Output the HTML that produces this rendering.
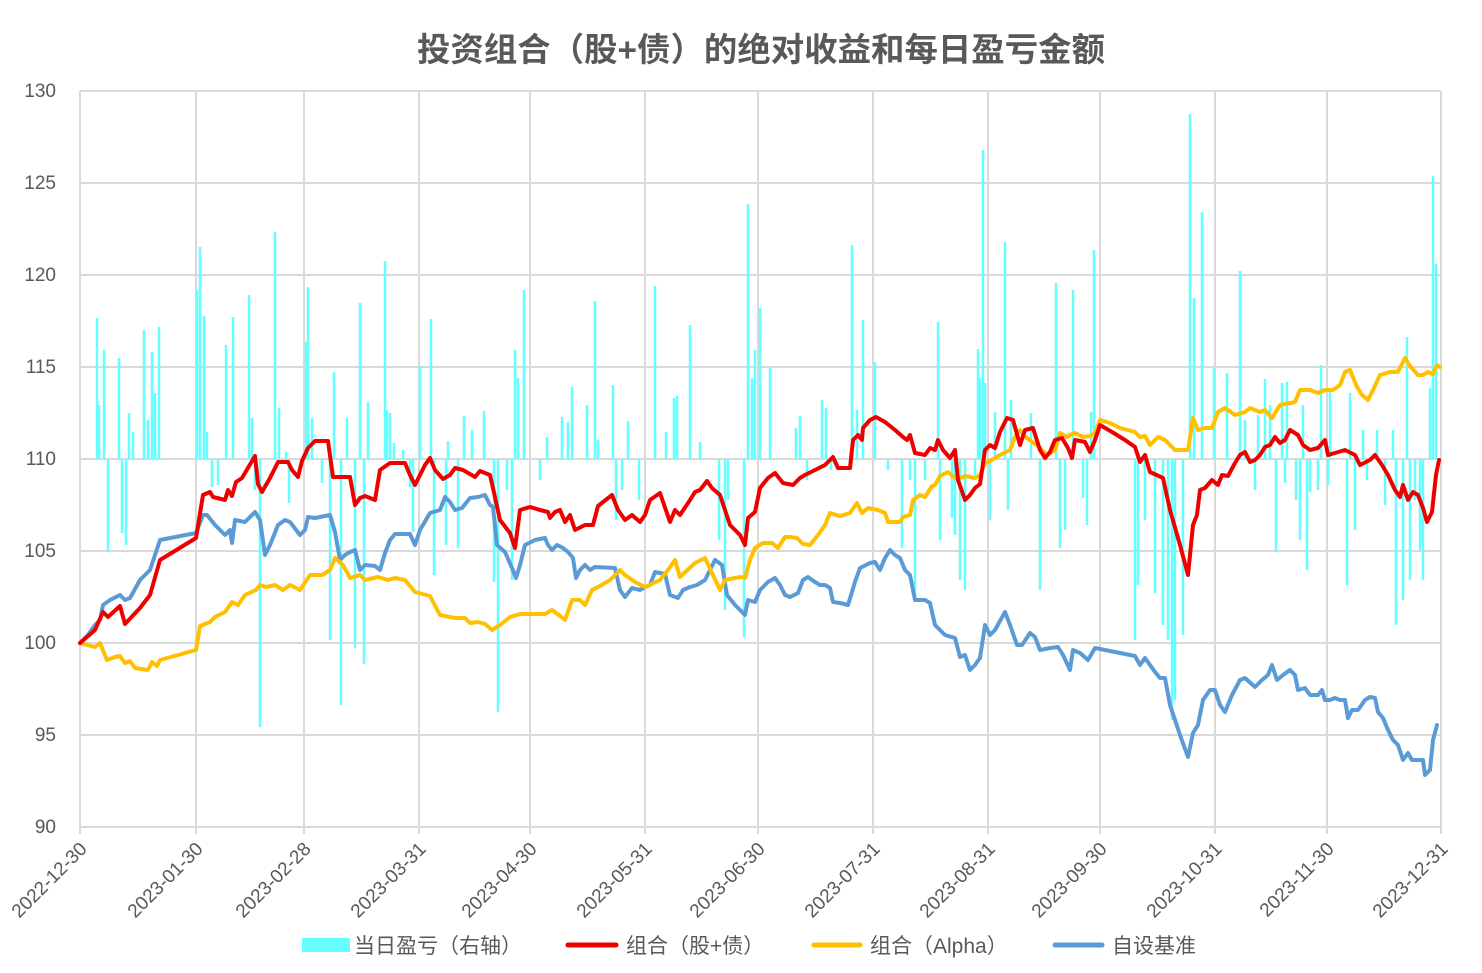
<!DOCTYPE html>
<html><head><meta charset="utf-8"><style>
body{margin:0;background:#fff;}
svg text{font-family:"Liberation Sans","Noto Sans CJK SC",sans-serif;fill:#595959;}
</style></head><body>
<svg width="1482" height="968" viewBox="0 0 1482 968" xmlns="http://www.w3.org/2000/svg">
<rect width="1482" height="968" fill="#fff"/>
<text x="761" y="61" text-anchor="middle" font-size="33" font-weight="bold" textLength="688" lengthAdjust="spacingAndGlyphs">投资组合（股+债）的绝对收益和每日盈亏金额</text>
<g stroke="#d9d9d9" stroke-width="2">
<line x1="80" y1="91" x2="1441" y2="91"/><line x1="80" y1="183" x2="1441" y2="183"/><line x1="80" y1="275" x2="1441" y2="275"/><line x1="80" y1="367" x2="1441" y2="367"/><line x1="80" y1="459" x2="1441" y2="459"/><line x1="80" y1="551" x2="1441" y2="551"/><line x1="80" y1="643" x2="1441" y2="643"/><line x1="80" y1="735" x2="1441" y2="735"/><line x1="80" y1="827" x2="1441" y2="827"/>
<path d="M80 91V834M196 91V834M304 91V834M419 91V834M530 91V834M645 91V834M758 91V834M873 91V834M988 91V834M1100 91V834M1215 91V834M1327 91V834M1441 91V834"/>
</g>
<g font-size="19" text-anchor="end">
<text x="56" y="97">130</text><text x="56" y="189">125</text><text x="56" y="281">120</text><text x="56" y="373">115</text><text x="56" y="465">110</text><text x="56" y="557">105</text><text x="56" y="649">100</text><text x="56" y="741">95</text><text x="56" y="833">90</text>
</g>
<g font-size="19" text-anchor="end">
<text transform="translate(88,850) rotate(-45)">2022-12-30</text>
<text transform="translate(204,850) rotate(-45)">2023-01-30</text>
<text transform="translate(312,850) rotate(-45)">2023-02-28</text>
<text transform="translate(427,850) rotate(-45)">2023-03-31</text>
<text transform="translate(538,850) rotate(-45)">2023-04-30</text>
<text transform="translate(653,850) rotate(-45)">2023-05-31</text>
<text transform="translate(766,850) rotate(-45)">2023-06-30</text>
<text transform="translate(881,850) rotate(-45)">2023-07-31</text>
<text transform="translate(996,850) rotate(-45)">2023-08-31</text>
<text transform="translate(1108,850) rotate(-45)">2023-09-30</text>
<text transform="translate(1223,850) rotate(-45)">2023-10-31</text>
<text transform="translate(1335,850) rotate(-45)">2023-11-30</text>
<text transform="translate(1449,850) rotate(-45)">2023-12-31</text>
</g>
<path stroke="#66ffff" stroke-width="2.5" fill="none" d="M97 459V318M99 459V405M104 459V350M119 459V358M129 459V413M133 459V432M144 459V330M148 459V420M152 459V352M155 459V393M159 459V327M197 459V290M200 459V247M204 459V316M207 459V432M226 459V345M233 459V317M249 459V295M252 459V418M275 459V232M279 459V408M286 459V452M306 459V342M308 459V287M312 459V418M334 459V372M347 459V418M360 459V303M368 459V402M385 459V261M387 459V410M390 459V413M394 459V443M403 459V450M420 459V366M431 459V319M448 459V441M464 459V416M472 459V430M484 459V411M515 459V350M518 459V378M524 459V290M547 459V437M562 459V417M568 459V422M572 459V387M587 459V405M595 459V301M598 459V440M613 459V385M628 459V421M655 459V286M666 459V432M674 459V398M677 459V396M690 459V325M700 459V442M748 459V204M752 459V378M755 459V350M760 459V308M770 459V368M796 459V428M800 459V416M822 459V400M826 459V408M852 459V245M857 459V410M863 459V320M875 459V362M938 459V322M978 459V349M980 459V378M983 459V150M985 459V383M995 459V412M1005 459V242M1011 459V400M1031 459V413M1056 459V283M1073 459V290M1091 459V412M1094 459V250M1190 459V114M1194 459V298M1202 459V212M1214 459V368M1227 459V373M1240 459V271M1245 459V420M1258 459V415M1265 459V379M1270 459V405M1282 459V383M1287 459V382M1303 459V405M1321 459V365M1330 459V392M1350 459V393M1363 459V430M1377 459V430M1393 459V430M1407 459V337M1430 459V388M1433 459V176M1436 459V264
M108 459V552M122 459V533M126 459V545M212 459V487M218 459V485M255 459V490M260 459V727M289 459V503M322 459V483M330 459V640M341 459V705M355 459V648M364 459V664M410 459V487M413 459V532M434 459V575M446 459V545M458 459V548M494 459V582M498 459V712M507 459V490M512 459V580M540 459V480M616 459V520M622 459V490M639 459V500M719 459V540M725 459V610M728 459V500M744 459V637M807 459V480M831 459V470M888 459V470M902 459V548M910 459V480M915 459V600M925 459V480M940 459V540M952 459V518M955 459V535M960 459V580M965 459V590M975 459V475M990 459V520M1008 459V510M1040 459V590M1060 459V548M1065 459V530M1083 459V498M1087 459V525M1135 459V640M1138 459V585M1145 459V520M1155 459V593M1163 459V625M1168 459V640M1172 459V720M1175 459V700M1183 459V635M1255 459V490M1276 459V552M1285 459V483M1296 459V500M1300 459V540M1307 459V570M1310 459V492M1318 459V490M1328 459V485M1347 459V585M1355 459V530M1367 459V480M1385 459V505M1396 459V625M1403 459V600M1410 459V580M1415 459V500M1420 459V550M1423 459V580"/>
<g fill="none" stroke-width="4" stroke-linejoin="round" stroke-linecap="round">
<polyline stroke="#5b9bd5" points="80,643 88,635 95,625 100,620 103,605 110,600 120,595 125,600 130,598 140,580 150,570 160,540 196,533 203,515 207,515 215,525 225,535 230,530 232,543 235,520 245,522 255,512 260,520 265,555 270,545 278,525 285,520 290,522 300,535 305,530 308,517 315,518 325,516 330,515 335,532 340,560 345,555 350,552 355,550 360,570 365,565 375,566 380,570 385,553 390,540 395,534 410,534 415,545 420,530 430,513 440,510 445,497 450,502 455,510 462,508 470,498 478,497 485,495 490,505 493,507 497,545 505,552 512,568 516,578 520,565 525,545 535,540 545,538 548,545 552,550 557,545 563,548 568,552 573,558 576,578 580,570 585,565 590,570 595,567 615,568 620,590 625,597 632,588 640,590 645,587 650,585 655,572 665,574 670,595 678,598 683,590 690,587 697,585 705,580 710,570 715,560 722,565 727,595 735,605 745,615 748,600 755,602 760,590 768,582 775,578 780,585 785,595 790,597 798,593 803,580 808,577 815,582 820,585 825,585 830,588 833,602 840,603 848,605 855,582 860,568 870,563 875,562 880,570 885,558 890,550 895,555 900,558 905,570 910,575 915,600 925,600 930,603 935,625 945,635 955,638 960,657 965,655 970,670 975,665 980,658 985,625 990,635 995,630 1005,612 1010,625 1017,645 1022,645 1030,633 1035,637 1040,650 1050,648 1058,647 1063,655 1070,670 1073,650 1080,653 1088,660 1095,648 1135,656 1140,665 1145,658 1150,665 1155,672 1160,678 1165,678 1170,705 1175,720 1180,735 1188,757 1193,733 1198,725 1203,700 1210,690 1215,690 1220,705 1225,712 1232,695 1240,680 1245,678 1255,687 1262,680 1268,675 1272,665 1277,680 1283,675 1290,670 1295,675 1298,690 1305,688 1310,695 1318,695 1322,690 1325,700 1330,700 1335,698 1340,700 1345,700 1348,718 1352,710 1358,710 1365,700 1370,697 1375,698 1378,712 1383,718 1388,730 1393,740 1398,745 1403,760 1408,753 1412,760 1420,760 1423,760 1425,775 1430,770 1433,740 1437,725"/>
<polyline stroke="#ffc000" points="80,643 95,647 100,643 107,660 115,657 120,656 125,663 130,661 135,668 148,670 152,662 157,666 160,660 196,650 200,626 210,622 215,617 225,612 232,602 238,605 245,595 256,590 260,585 266,587 275,585 283,590 290,585 300,590 310,575 322,575 330,570 335,558 343,565 350,578 360,575 365,580 378,577 388,580 395,578 405,580 415,592 430,596 440,615 455,618 465,618 470,623 478,622 485,624 492,630 500,625 510,617 520,614 545,614 552,610 560,616 565,620 572,600 580,600 585,605 592,590 600,586 610,580 620,570 625,575 635,582 645,587 660,580 668,570 675,560 680,577 695,563 705,558 712,573 720,590 725,580 740,577 745,578 750,560 755,548 763,543 772,543 778,548 785,537 790,537 797,538 803,544 810,545 818,535 825,525 830,513 840,516 850,513 857,503 862,513 868,508 878,510 885,513 888,522 900,522 903,517 910,515 913,500 920,495 925,497 932,486 935,485 940,476 948,472 955,478 960,478 965,476 975,478 980,475 985,463 990,461 1000,455 1010,450 1015,437 1020,430 1025,437 1030,440 1040,448 1047,455 1055,450 1060,433 1067,437 1070,435 1075,433 1083,437 1090,436 1095,433 1100,420 1110,423 1120,428 1135,432 1140,437 1145,436 1150,445 1158,437 1165,440 1175,450 1188,450 1193,418 1198,430 1205,428 1212,428 1218,412 1225,408 1235,415 1245,412 1250,408 1260,412 1265,410 1272,418 1280,405 1295,402 1300,390 1310,390 1318,393 1325,390 1333,390 1340,385 1345,372 1350,370 1357,387 1362,395 1368,400 1372,392 1380,375 1390,372 1398,372 1405,358 1410,366 1418,375 1423,375 1428,372 1433,374 1437,365 1440,367"/>
<polyline stroke="#ee0000" points="80,643 95,630 103,612 108,617 120,606 125,624 140,608 150,595 160,560 196,538 203,495 210,492 213,497 225,500 228,490 232,496 236,482 242,478 255,456 258,484 262,492 270,478 278,462 288,462 292,470 298,477 302,461 308,448 315,441 328,441 333,477 350,477 355,505 360,498 365,496 375,500 380,470 390,463 405,463 410,475 415,485 420,475 425,465 430,458 435,470 443,479 450,475 455,468 463,470 475,477 480,471 485,473 490,475 493,488 500,520 510,533 515,548 520,510 530,507 540,510 548,512 550,518 555,512 560,510 565,522 570,515 575,530 585,525 593,525 598,506 612,495 618,510 625,520 632,515 640,522 645,515 650,500 660,493 670,522 675,510 680,515 690,500 695,492 700,490 707,481 712,488 720,495 730,525 740,535 745,545 748,518 755,512 760,488 768,478 775,473 783,483 793,485 800,478 805,475 815,470 825,465 833,457 838,468 850,468 853,440 858,435 862,440 863,428 870,420 876,417 885,422 895,430 903,437 907,440 910,435 915,453 925,455 930,448 935,450 938,440 943,450 950,458 955,450 958,480 965,500 970,495 975,488 980,484 985,450 990,445 995,448 1000,432 1007,418 1013,420 1020,445 1025,430 1033,428 1040,450 1045,458 1050,452 1055,440 1062,438 1068,448 1072,458 1075,440 1085,442 1090,452 1095,440 1100,425 1112,432 1125,440 1135,447 1140,462 1145,455 1150,472 1163,478 1170,510 1180,545 1188,575 1193,525 1197,515 1200,490 1205,488 1212,480 1218,485 1222,475 1228,476 1235,463 1240,455 1245,452 1250,462 1255,460 1260,455 1265,447 1270,445 1275,437 1280,443 1285,440 1290,430 1298,435 1303,445 1310,450 1318,448 1325,440 1328,455 1335,453 1345,450 1355,455 1360,465 1370,460 1375,455 1382,465 1388,475 1395,490 1400,497 1403,485 1408,500 1413,492 1418,495 1423,508 1427,522 1432,512 1436,475 1439,460"/>
</g>
<g font-size="21">
<rect x="302" y="938" width="48" height="14" fill="#66ffff"/>
<text x="354" y="953">当日盈亏（右轴）</text>
<line x1="568" y1="945" x2="616" y2="945" stroke="#ee0000" stroke-width="5" stroke-linecap="round"/>
<text x="626" y="953">组合（股+债）</text>
<line x1="814" y1="945" x2="860" y2="945" stroke="#ffc000" stroke-width="5" stroke-linecap="round"/>
<text x="870" y="953">组合（Alpha）</text>
<line x1="1055" y1="945" x2="1102" y2="945" stroke="#5b9bd5" stroke-width="5" stroke-linecap="round"/>
<text x="1112" y="953">自设基准</text>
</g>
</svg>
</body></html>
